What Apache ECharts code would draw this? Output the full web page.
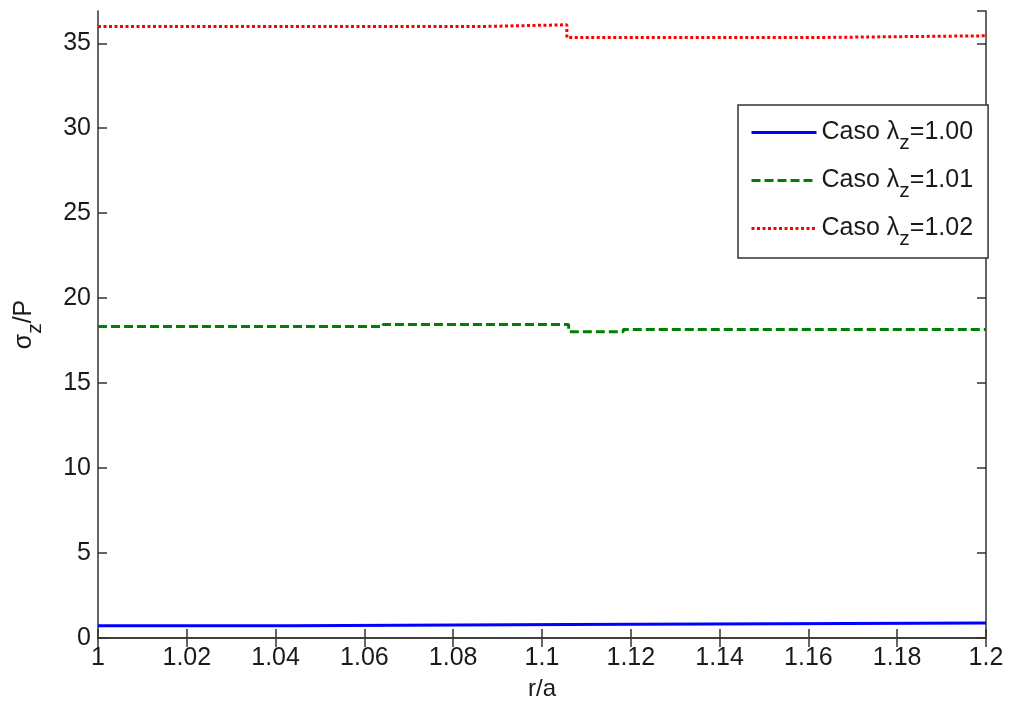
<!DOCTYPE html>
<html>
<head>
<meta charset="utf-8">
<script src="https://cdn.jsdelivr.net/npm/echarts@6/dist/echarts.min.js"></script>
<style>
  html, body { margin: 0; padding: 0; background: #fff; }
  #chart { width: 1009px; height: 704px; }
</style>
</head>
<body>
<div id="chart"></div>
<script>
// Stress ratio sigma_z/P along r/a for three axial stretch cases (step profiles)
const lambdaLabels = ['1.00', '1.01', '1.02'];
const colors = ['#0000ff', '#008000', '#ff0000'];

// breakpoints in r/a and the value that holds from each breakpoint on
const rBlue  = [1.0, 1.0434, 1.106, 1.2];
const sBlue  = [0.72, 0.80, 0.88, 0.88];
const rGreen = [1.0, 1.0642, 1.106, 1.1183, 1.2];
const sGreen = [18.33, 18.45, 18.03, 18.15, 18.15];
const rRed   = [1.0, 1.0868, 1.1056, 1.1616, 1.2];
const sRed   = [35.99, 36.09, 35.34, 35.44, 35.44];

const xTicks = [1, 1.02, 1.04, 1.06, 1.08, 1.1, 1.12, 1.14, 1.16, 1.18, 1.2];

const FONT = 'Liberation Sans, Arial, Helvetica, sans-serif';
const zip = (xs, ys) => xs.map((x, i) => [x, ys[i]]);

const lineTypes = [
  { type: 'solid', width: 3 },
  { type: [9, 4], width: 3 },
  { type: [3, 2.5], width: 3 }
];
const seriesData = [zip(rBlue, sBlue), zip(rGreen, sGreen), zip(rRed, sRed)];

const axisCommon = {
  axisLine: { show: true, lineStyle: { color: '#333', width: 1.5 } },
  axisTick: { show: true, inside: true, length: 9, lineStyle: { color: '#333', width: 1.5 } },
  splitLine: { show: false }
};

const subStyle = {
  a: { fontFamily: FONT, fontSize: 25, color: '#1a1a1a' },
  s: { fontFamily: FONT, fontSize: 21, color: '#1a1a1a', padding: [22, 0, 0, 0] }
};

const chart = echarts.init(document.getElementById('chart'), null, { renderer: 'canvas' });

chart.setOption({
  backgroundColor: '#fff',
  animation: false,
  grid: { left: 98, top: 11, right: 23, bottom: 66, containLabel: false, outerBoundsMode: 'none' },
  xAxis: [
    Object.assign({
      type: 'value', min: 1, max: 1.2, interval: 0.02, position: 'bottom',
      name: 'r/a', nameLocation: 'middle', nameGap: 39,
      nameTextStyle: { fontFamily: FONT, fontSize: 24, color: '#1a1a1a' },
      axisLabel: {
        fontFamily: FONT, fontSize: 25, color: '#1a1a1a', margin: 8,
        formatter: v => {
          const hit = xTicks.find(t => Math.abs(t - v) < 1e-6);
          return hit === undefined ? '' : String(hit);
        }
      }
    }, axisCommon),
    Object.assign({
      type: 'value', min: 1, max: 1.2, interval: 0.02, position: 'top',
      axisLabel: { show: false }
    }, axisCommon)
  ],
  yAxis: [
    Object.assign({
      type: 'value', min: 0, max: 36.9, interval: 5, position: 'left',
      name: '{a|σ}{s|z}{a|/P}', nameLocation: 'middle', nameGap: 52, nameRotate: 90,
      nameTextStyle: { fontFamily: FONT, color: '#1a1a1a', rich: subStyle },
      axisLabel: { fontFamily: FONT, fontSize: 25, color: '#1a1a1a', margin: 7, showMaxLabel: false }
    }, axisCommon),
    Object.assign({
      type: 'value', min: 0, max: 36.9, interval: 5, position: 'right',
      axisLabel: { show: false }
    }, axisCommon)
  ],
  legend: {
    orient: 'vertical',
    left: 738, top: 105,
    padding: [15, 15, 8, 12],
    itemGap: 14,
    itemWidth: 65,
    itemHeight: 14,
    backgroundColor: '#fff',
    borderColor: '#333',
    borderWidth: 1.5,
    borderRadius: 0,
    lineStyle: { width: 3 },
    itemStyle: { opacity: 0, borderWidth: 0 },
    formatter: name => '{a|Caso λ}{s|z}{a|=' + name + '}',
    textStyle: { fontFamily: FONT, color: '#1a1a1a', rich: subStyle }
  },
  series: lambdaLabels.map((lab, i) => ({
    name: lab,
    type: 'line',
    step: 'end',
    data: seriesData[i],
    symbol: 'none',
    color: colors[i],
    lineStyle: { color: colors[i], width: lineTypes[i].width, type: lineTypes[i].type }
  }))
});
</script>
</body>
</html>
